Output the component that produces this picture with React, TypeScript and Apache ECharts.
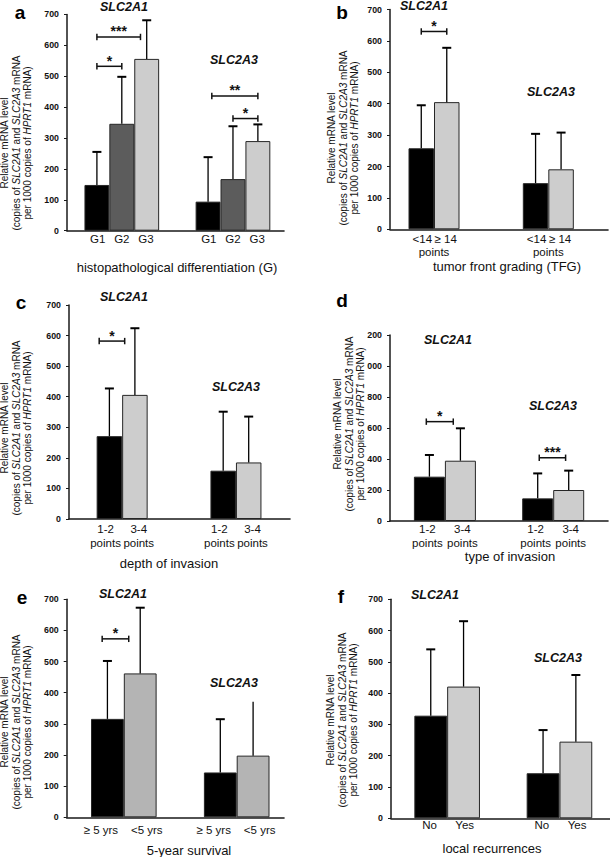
import { useEffect, useRef } from 'react';
import * as echarts from 'echarts';

const FONT = '"Liberation Sans", Arial, Helvetica, sans-serif';
const GENES = ['SLC2A1', 'SLC2A3'];

const BLACK = '#000000';
const DARK = '#5c5c5c';
const LIGHT = '#cdcdcd';
const E_LIGHT = '#b4b4b4';
const AXIS = '#1a1a1a';

// ---------- data ----------
// a: histopathological differentiation (G)
const aClasses = ['G1', 'G2', 'G3'];
const aMean = [[148, 94], [346, 167], [556, 290]]; // [class][gene]
const aUpper = [[255, 238], [498, 338], [681, 344]];
const aSig = [
  { gene: 0, from: 0, to: 1.75, y: 627, text: '***' },
  { gene: 0, from: 0, to: 1, y: 532, text: '*' },
  { gene: 1, from: 0.15, to: 2, y: 436, text: '**' },
  { gene: 1, from: 1, to: 2, y: 363, text: '*' },
];

// b: tumor front grading (TFG)
const bClasses = ['<14', '≥ 14'];
const bMean = [[258, 147], [405, 191]];
const bUpper = [[395, 304], [578, 308]];
const bSig = [{ gene: 0, from: 0, to: 1, y: 630, text: '*' }];

// c: depth of invasion
const cClasses = ['1-2', '3-4'];
const cMean = [[271, 158], [406, 185]];
const cUpper = [[427, 351], [624, 335]];
const cSig = [{ gene: 0, from: -0.4, to: 0.6, y: 582, text: '*' }];

// d: type of invasion
const dClasses = ['1-2', '3-4'];
const dMean = [[286, 146], [389, 200]];
const dUpper = [[426, 307], [598, 325]];
const dSig = [
  { gene: 0, from: -0.1, to: 0.77, y: 641, text: '*' },
  { gene: 1, from: 0.05, to: 0.9, y: 408, text: '***' },
];

// e: 5-year survival
const eClasses = ['≥ 5 yrs', '<5 yrs'];
const eMean = [[316, 144], [462, 198]];
const eUpper = [[502, 315], [673, 371]];
const eCaps = [[true, true], [true, false]];
const eSig = [{ gene: 0, from: -0.16, to: 0.65, y: 573, text: '*' }];

// f: local recurrences
const fClasses = ['No', 'Yes'];
const fMean = [[328, 144], [421, 245]];
const fUpper = [[540, 282], [630, 458]];
const fSig: any[] = [];

const Y_NAME =
  'Relative mRNA level\n(copies of {i|SLC2A1} and {i|SLC2A3} mRNA\nper 1000 copies of {i|HPRT1} mRNA)';

const panels: any[] = [
  {
    letter: 'a', classes: aClasses, mean: aMean, upper: aUpper, sig: aSig,
    colors: [BLACK, DARK, LIGHT], sub: null,
    L: 67, R: 284, T: 14.4, B: 230.7, xMin: -0.493, xMax: 1.459, yMax: 700, yInt: 100, barW: 24.9,
    labelDy: 8.3, rowGap: 13.8, spread: 0.97, letterPos: [20, 12], genePos: [[124, 7], [234, 60]],
    title: 'histopathological differentiation (G)', titlePos: [177, 267], yNamePos: [16, 143],
  },
  {
    letter: 'b', classes: bClasses, mean: bMean, upper: bUpper, sig: bSig,
    colors: [BLACK, LIGHT], sub: 'group',
    L: 390, R: 608, T: 9.5, B: 229.3, xMin: -0.385, xMax: 1.522, yMax: 700, yInt: 100, barW: 25.5,
    labelDy: 10, rowGap: 12.6, spread: 0.92, letterPos: [342, 12], genePos: [[424, 6], [551, 92]],
    title: 'tumor front grading (TFG)', titlePos: [507, 266], yNamePos: [343, 138],
  },
  {
    letter: 'c', classes: cClasses, mean: cMean, upper: cUpper, sig: cSig,
    colors: [BLACK, LIGHT], sub: 'bar',
    L: 69, R: 290, T: 305, B: 519, xMin: -0.467, xMax: 1.475, yMax: 700, yInt: 100, barW: 25.5,
    labelDy: 10.3, rowGap: 13.8, spread: 1.3, letterPos: [21, 302], genePos: [[124, 297], [236, 387]],
    title: 'depth of invasion', titlePos: [169, 563], yNamePos: [16, 428],
  },
  {
    letter: 'd', classes: dClasses, mean: dMean, upper: dUpper, sig: dSig,
    colors: [BLACK, LIGHT], sub: 'bar',
    L: 390, R: 608, T: 335, B: 521, xMin: -0.507, xMax: 1.506, yMax: 1200, yInt: 200, barW: 31,
    labelDy: 7.5, rowGap: 14.5, spread: 1.13, letterPos: [342, 300], genePos: [[448, 340], [553, 406]],
    title: 'type of invasion', titlePos: [510, 556], yNamePos: [349, 424],
    yFmt: (v: number) => (v >= 1000 ? String(v).slice(1) : String(v)),
  },
  {
    letter: 'e', classes: eClasses, mean: eMean, upper: eUpper, caps: eCaps, sig: eSig,
    colors: [BLACK, E_LIGHT], sub: null,
    L: 66.7, R: 284, T: 599.3, B: 817.3, xMin: -0.506, xMax: 1.419, yMax: 700, yInt: 100, barW: 32.8,
    labelDy: 12.7, rowGap: 13.8, spread: 1.4, letterPos: [22, 597], genePos: [[123, 594], [234, 683]],
    title: '5-year survival', titlePos: [189, 850], yNamePos: [16, 722],
  },
  {
    letter: 'f', classes: fClasses, mean: fMean, upper: fUpper, sig: fSig,
    colors: [BLACK, LIGHT], sub: null,
    L: 391, R: 610, T: 599.3, B: 818.3, xMin: -0.5, xMax: 1.45, yMax: 700, yInt: 100, barW: 32.8,
    labelDy: 6.7, rowGap: 13.8, spread: 1.07, letterPos: [341, 596], genePos: [[435, 595], [558, 658]],
    title: 'local recurrences', titlePos: [492, 848], yNamePos: [342, 720],
  },
];

function buildOption(): any {
  const grid: any[] = [];
  const xAxis: any[] = [];
  const yAxis: any[] = [];
  const series: any[] = [];
  const graphic: any[] = [];

  panels.forEach((p, i) => {
    const n = p.classes.length;
    const slotX = (api: any, g: number, slot: number, spread = 1) =>
      api.coord([g, 0])[0] + (slot - (n - 1) / 2) * p.barW * spread;

    grid.push({ left: p.L, top: p.T, width: p.R - p.L, height: p.B - p.T });
    xAxis.push({
      type: 'value', gridIndex: i, min: p.xMin, max: p.xMax,
      axisLine: { show: true, onZero: false, lineStyle: { color: AXIS, width: 1.6 } },
      axisTick: { show: false }, axisLabel: { show: false }, splitLine: { show: false },
    });
    yAxis.push({
      type: 'value', gridIndex: i, min: 0, max: p.yMax, interval: p.yInt,
      axisLine: { show: true, onZero: false, lineStyle: { color: AXIS, width: 1.5 } },
      axisTick: { show: true, length: 3, lineStyle: { color: AXIS, width: 1 } },
      axisLabel: {
        fontSize: 8.8, fontWeight: 'bold', color: '#111', fontFamily: FONT, margin: 8,
        formatter: p.yFmt ? p.yFmt : (v: number) => String(v),
      },
      splitLine: { show: false },
    });

    // bars
    p.classes.forEach((cls: string, k: number) => {
      series.push({
        type: 'bar', name: p.letter + ' ' + cls, xAxisIndex: i, yAxisIndex: i,
        barWidth: p.barW, barGap: '0%', silent: true,
        data: GENES.map((_, g) => [g, p.mean[k][g]]),
        itemStyle: { color: p.colors[k], borderColor: '#262626', borderWidth: 1 },
      });
    });

    // error bars
    const errData: number[][] = [];
    p.classes.forEach((_: string, k: number) =>
      GENES.forEach((__, g) =>
        errData.push([g, k, p.mean[k][g], p.upper[k][g], p.caps && !p.caps[k][g] ? 0 : 1])
      )
    );
    series.push({
      type: 'custom', xAxisIndex: i, yAxisIndex: i, silent: true, z: 3,
      encode: { x: 0, y: 3 }, data: errData,
      renderItem: (_params: any, api: any) => {
        const g = api.value(0), k = api.value(1);
        const x = slotX(api, g, k);
        const y0 = api.coord([g, api.value(2)])[1];
        const y1 = api.coord([g, api.value(3)])[1];
        const children: any[] = [
          { type: 'line', shape: { x1: x, y1: y0, x2: x, y2: y1 }, style: { stroke: '#000', lineWidth: 1.3 } },
        ];
        if (api.value(4)) {
          children.push({
            type: 'line', shape: { x1: x - 4.5, y1: y1, x2: x + 4.5, y2: y1 },
            style: { stroke: '#000', lineWidth: 2 },
          });
        }
        return { type: 'group', children };
      },
    });

    // significance brackets
    if (p.sig.length) {
      series.push({
        type: 'custom', xAxisIndex: i, yAxisIndex: i, silent: true, z: 3,
        encode: { x: 0, y: 1 }, data: p.sig.map((s: any) => [s.gene, s.y]),
        renderItem: (params: any, api: any) => {
          const s = p.sig[params.dataIndex];
          const x1 = slotX(api, s.gene, s.from);
          const x2 = slotX(api, s.gene, s.to);
          const y = api.coord([s.gene, s.y])[1];
          const st = { stroke: '#111', lineWidth: 1.5 };
          return {
            type: 'group',
            children: [
              { type: 'line', shape: { x1, y1: y, x2, y2: y }, style: st },
              { type: 'line', shape: { x1, y1: y - 3.2, x2: x1, y2: y + 3.2 }, style: st },
              { type: 'line', shape: { x1: x2, y1: y - 3.2, x2, y2: y + 3.2 }, style: st },
              {
                type: 'text',
                style: {
                  text: s.text, x: (x1 + x2) / 2, y: y - 5.5, align: 'center', verticalAlign: 'middle',
                  fontSize: 14, fontWeight: 'bold', fontFamily: FONT, fill: '#111',
                },
              },
            ],
          };
        },
      });
    }

    // category labels under the bars
    const labels: any[] = [];
    p.classes.forEach((cls: string, k: number) =>
      GENES.forEach((_, g) => {
        labels.push({ gene: g, slot: k, row: 0, text: cls });
        if (p.sub === 'bar') labels.push({ gene: g, slot: k, row: 1, text: 'points' });
      })
    );
    if (p.sub === 'group') {
      GENES.forEach((_, g) => labels.push({ gene: g, slot: (n - 1) / 2, row: 1, text: 'points' }));
    }
    series.push({
      type: 'custom', xAxisIndex: i, yAxisIndex: i, silent: true, clip: false,
      encode: { x: 0, y: 1 }, data: labels.map((l) => [l.gene, 0]),
      renderItem: (params: any, api: any) => {
        const l = labels[params.dataIndex];
        const x = slotX(api, l.gene, l.slot, p.spread);
        const y = api.coord([l.gene, 0])[1] + p.labelDy + l.row * p.rowGap;
        return {
          type: 'text',
          style: {
            text: l.text, x, y, align: 'center', verticalAlign: 'middle',
            fontSize: 11.5, fontFamily: FONT, fill: '#111',
          },
        };
      },
    });

    // panel letter
    graphic.push({
      type: 'text', x: p.letterPos[0], y: p.letterPos[1], silent: true,
      style: { text: p.letter, align: 'center', verticalAlign: 'middle', fontSize: 19, fontWeight: 'bold', fontFamily: FONT, fill: '#000' },
    });
    // gene labels
    GENES.forEach((gName, g) => {
      graphic.push({
        type: 'text', x: p.genePos[g][0], y: p.genePos[g][1], silent: true,
        style: {
          text: gName, align: 'center', verticalAlign: 'middle', fontSize: 12.5,
          fontWeight: 'bold', fontStyle: 'italic', fontFamily: FONT, fill: '#111',
        },
      });
    });
    // x title
    graphic.push({
      type: 'text', x: p.titlePos[0], y: p.titlePos[1], silent: true,
      style: { text: p.title, align: 'center', verticalAlign: 'middle', fontSize: 13, fontFamily: FONT, fill: '#111' },
    });
    // y name
    graphic.push({
      type: 'text', x: p.yNamePos[0], y: p.yNamePos[1], rotation: Math.PI / 2, silent: true,
      style: {
        text: Y_NAME, align: 'center', verticalAlign: 'middle', fontSize: 10, lineHeight: 11.5,
        fontFamily: FONT, fill: '#111',
        rich: { i: { fontStyle: 'italic', fontSize: 10, lineHeight: 11.5, fontFamily: FONT, fill: '#111' } },
      },
    });
  });

  return {
    animation: false,
    backgroundColor: '#ffffff',
    grid, xAxis, yAxis, series, graphic,
  };
}

export default function App() {
  const ref = useRef<HTMLDivElement>(null);
  useEffect(() => {
    if (!ref.current) return;
    const chart = echarts.init(ref.current, undefined, { renderer: 'svg' });
    chart.setOption(buildOption());
    return () => chart.dispose();
  }, []);
  return (
    <div
      ref={ref}
      style={{ position: 'absolute', left: 0, top: 0, width: 610, height: 857, background: '#fff' }}
    />
  );
}
